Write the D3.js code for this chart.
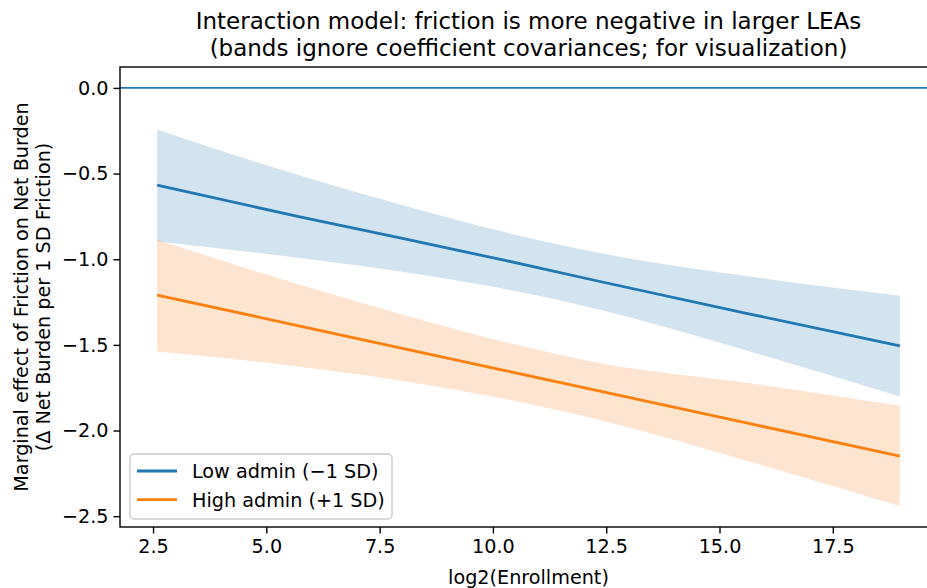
<!DOCTYPE html>
<html>
<head>
<meta charset="utf-8">
<script src="https://cdn.jsdelivr.net/npm/d3@7"></script>
<style>
	body { margin: 0; background: white; }
	svg { display: block; font-family: "DejaVu Sans", sans-serif; }
</style>
</head>
<body>
<div id="chart"></div>
<script>
var enrollment = [2.59, 5.74, 7.95, 10.27, 12.36, 15.67, 18.98];
// Low admin (-1 SD)
var lowEst = [-0.568, -0.753, -0.876, -1.007, -1.130, -1.320, -1.506];
var lowLower = [-0.896, -0.993, -1.071, -1.174, -1.295, -1.539, -1.802];
var lowUpper = [-0.243, -0.512, -0.681, -0.843, -0.964, -1.101, -1.213];
// High admin (+1 SD)
var highEst = [-1.209, -1.390, -1.517, -1.650, -1.770, -1.960, -2.149];
var highLower = [-1.539, -1.627, -1.708, -1.816, -1.939, -2.182, -2.441];
var highUpper = [-0.886, -1.149, -1.319, -1.484, -1.607, -1.724, -1.855];
// Tick labels
var xTicks = [2.5, 5.0, 7.5, 10.0, 12.5, 15.0, 17.5];
var yTicks = [0.0, -0.5, -1.0, -1.5, -2.0, -2.5];
var seriesNames = ["Low admin (\u22121 SD)", "High admin (+1 SD)"];

// Canvas parameters
var canvas = {
	width: 927,
	height: 588,
	left: 120,
	right: 937,
	top: 67,
	bottom: 527
};
var colors = ["#1f77b4", "#ff7f0e"];
var fontSize = 19.2;
var titleSize = 23;

var series = [
	{ name: seriesNames[0], color: colors[0], est: lowEst, lo: lowLower, hi: lowUpper },
	{ name: seriesNames[1], color: colors[1], est: highEst, lo: highLower, hi: highUpper }
];

// Limits with 5% margin like matplotlib
var xMin = d3.min(enrollment), xMax = d3.max(enrollment);
var xPad = (xMax - xMin) * 0.05;
var yMin = d3.min(highLower), yMax = 0;
var yPad = (yMax - yMin) * 0.05;

var x = d3.scaleLinear()
	.domain([xMin - xPad, xMax + xPad])
	.range([canvas.left, canvas.right]);
var y = d3.scaleLinear()
	.domain([yMin - yPad, yMax + yPad])
	.range([canvas.bottom, canvas.top]);

var svg = d3.select("#chart")
	.append("svg")
	.attr("width", canvas.width)
	.attr("height", canvas.height);

// Bands
series.forEach(function(s) {
	var area = d3.area()
		.x(function(d, i) { return x(enrollment[i]); })
		.y0(function(d, i) { return y(s.lo[i]); })
		.y1(function(d, i) { return y(s.hi[i]); })
		.curve(d3.curveMonotoneX);
	svg.append("path")
		.datum(enrollment)
		.attr("d", area)
		.attr("fill", s.color)
		.attr("fill-opacity", 0.2);
});

// Zero line
svg.append("line")
	.attr("x1", canvas.left)
	.attr("x2", canvas.right)
	.attr("y1", y(0))
	.attr("y2", y(0))
	.attr("stroke", colors[0])
	.attr("stroke-width", 1.8);

// Estimate lines
series.forEach(function(s) {
	var line = d3.line()
		.x(function(d, i) { return x(enrollment[i]); })
		.y(function(d, i) { return y(s.est[i]); });
	svg.append("path")
		.datum(enrollment)
		.attr("d", line)
		.attr("fill", "none")
		.attr("stroke", s.color)
		.attr("stroke-width", 2.8);
});

// Axes
var xAxis = svg.append("g")
	.attr("transform", "translate(0," + canvas.bottom + ")")
	.call(d3.axisBottom(x).tickValues(xTicks).tickFormat(d3.format(".1f")).tickSize(6.5).tickPadding(6));
var yAxis = svg.append("g")
	.attr("transform", "translate(" + canvas.left + ",0)")
	.call(d3.axisLeft(y).tickValues(yTicks).tickFormat(d3.format(".1f")).tickSize(6.5).tickPadding(5));
[xAxis, yAxis].forEach(function(a) {
	a.select(".domain").remove();
	a.selectAll("line").attr("stroke", "#000").attr("stroke-width", 1.4);
	a.selectAll("text")
		.attr("font-family", "DejaVu Sans")
		.attr("font-size", fontSize)
		.attr("fill", "#000");
});

// Spines
svg.append("rect")
	.attr("x", canvas.left)
	.attr("y", canvas.top)
	.attr("width", canvas.right - canvas.left)
	.attr("height", canvas.bottom - canvas.top)
	.attr("fill", "none")
	.attr("stroke", "#000")
	.attr("stroke-width", 1.4);

// Title
var cx = (canvas.left + canvas.right) / 2;
svg.append("text")
	.attr("x", cx)
	.attr("y", 29)
	.attr("text-anchor", "middle")
	.attr("font-size", titleSize)
	.text("Interaction model: friction is more negative in larger LEAs");
svg.append("text")
	.attr("x", cx)
	.attr("y", 56)
	.attr("text-anchor", "middle")
	.attr("font-size", titleSize)
	.text("(bands ignore coefficient covariances; for visualization)");

// Axis labels
svg.append("text")
	.attr("x", cx)
	.attr("y", 584)
	.attr("text-anchor", "middle")
	.attr("font-size", fontSize)
	.text("log2(Enrollment)");
var cy = (canvas.top + canvas.bottom) / 2;
svg.append("text")
	.attr("transform", "translate(28," + cy + ") rotate(-90)")
	.attr("text-anchor", "middle")
	.attr("font-size", fontSize)
	.text("Marginal effect of Friction on Net Burden");
svg.append("text")
	.attr("transform", "translate(50," + cy + ") rotate(-90)")
	.attr("text-anchor", "middle")
	.attr("font-size", fontSize)
	.text("(\u0394 Net Burden per 1 SD Friction)");

// Legend
var legend = svg.append("g");
legend.append("rect")
	.attr("x", 130)
	.attr("y", 454)
	.attr("width", 262)
	.attr("height", 65)
	.attr("rx", 4)
	.attr("fill", "white")
	.attr("fill-opacity", 0.8)
	.attr("stroke", "#cccccc")
	.attr("stroke-width", 1.4);
legend.selectAll("legend_line")
	.data(series)
	.enter()
	.append("line")
	.attr("x1", 137)
	.attr("x2", 177)
	.attr("y1", function(d, i) { return 471 + i * 28.6; })
	.attr("y2", function(d, i) { return 471 + i * 28.6; })
	.attr("stroke", function(d) { return d.color; })
	.attr("stroke-width", 2.8);
legend.selectAll("legend_label")
	.data(series)
	.enter()
	.append("text")
	.attr("x", 192)
	.attr("y", function(d, i) { return 478 + i * 28.6; })
	.attr("font-size", fontSize)
	.text(function(d) { return d.name; });
</script>
</body>
</html>
